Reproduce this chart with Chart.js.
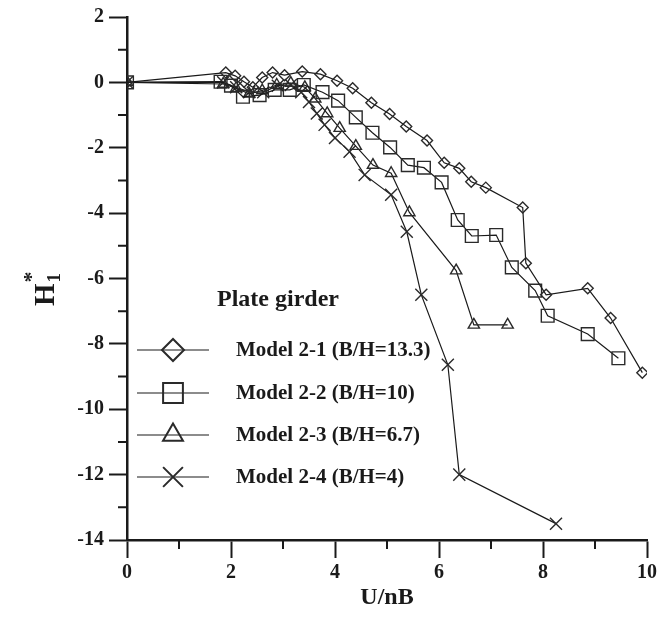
<!DOCTYPE html>
<html>
<head>
<meta charset="utf-8">
<script src="https://cdn.jsdelivr.net/npm/chart.js@4.4.0/dist/chart.umd.min.js"></script>
<style>
  html, body { margin: 0; padding: 0; background: #fff; }
</style>
</head>
<body>
<canvas id="girderChart" width="660" height="620"></canvas>
<script>
// H1* flutter derivative vs reduced wind speed, plate girder models
const seriesLabels = ["Model 2-1 (B/H=13.3)", "Model 2-2 (B/H=10)", "Model 2-3 (B/H=6.7)", "Model 2-4 (B/H=4)"];

const model21X = [0, 1.9, 2.08, 2.25, 2.42, 2.6, 2.8, 3.03, 3.37, 3.72, 4.04, 4.34, 4.7, 5.05, 5.37, 5.77, 6.1, 6.39, 6.62, 6.9, 7.61, 7.67, 8.06, 8.86, 9.3, 9.91];
const model21Y = [0, 0.3, 0.2, 0.02, -0.15, 0.15, 0.3, 0.22, 0.33, 0.25, 0.05, -0.18, -0.62, -0.97, -1.35, -1.78, -2.46, -2.63, -3.04, -3.22, -3.83, -5.53, -6.5, -6.3, -7.21, -8.88];

const model22X = [0, 1.8, 2.0, 2.23, 2.55, 2.84, 3.13, 3.4, 3.76, 4.06, 4.4, 4.72, 5.06, 5.4, 5.71, 6.05, 6.36, 6.63, 7.1, 7.4, 7.85, 8.09, 8.86, 9.45];
const model22Y = [0, 0.02, -0.1, -0.44, -0.39, -0.23, -0.23, -0.08, -0.3, -0.56, -1.07, -1.54, -1.99, -2.53, -2.61, -3.06, -4.21, -4.7, -4.67, -5.66, -6.37, -7.14, -7.7, -8.44];

const model23X = [0, 1.85, 2.1, 2.35, 2.6, 2.88, 3.15, 3.42, 3.62, 3.85, 4.09, 4.4, 4.73, 5.08, 5.43, 6.33, 6.67, 7.32];
const model23Y = [0, -0.05, -0.18, -0.35, -0.25, -0.08, -0.02, -0.15, -0.5, -0.95, -1.4, -1.95, -2.53, -2.78, -3.98, -5.76, -7.42, -7.42];

const model24X = [0, 1.85, 2.1, 2.35, 2.62, 2.9, 3.15, 3.35, 3.5, 3.65, 3.8, 4.0, 4.28, 4.57, 5.08, 5.38, 5.66, 6.17, 6.39, 8.25];
const model24Y = [0, 0.0, -0.15, -0.3, -0.3, -0.1, -0.08, -0.3, -0.6, -0.95, -1.3, -1.7, -2.12, -2.83, -3.44, -4.57, -6.5, -8.64, -12.0, -13.5];

const xTicks = [0, 2, 4, 6, 8, 10];
const yTicks = [2, 0, -2, -4, -6, -8, -10, -12, -14];

const SERIF = '"Liberation Serif", "DejaVu Serif", serif';
const INK = '#1a1a1a';

function toPoints(xs, ys) {
    return xs.map((x, i) => ({ x: x, y: ys[i] }));
}

// marker look per series: [pointStyle, radius in plot, radius in legend]
const markerStyles = [
    ['rectRot', 5.5, 11],
    ['rect', 9, 14],
    ['triangle', 6.5, 11.5],
    ['crossRot', 8.5, 14]
];

const seriesData = [
    toPoints(model21X, model21Y),
    toPoints(model22X, model22Y),
    toPoints(model23X, model23Y),
    toPoints(model24X, model24Y)
];

const datasets = seriesData.map((pts, i) => ({
    label: seriesLabels[i],
    data: pts,
    showLine: true,
    borderColor: INK,
    borderWidth: 1.2,
    pointStyle: markerStyles[i][0],
    pointRadius: markerStyles[i][1],
    pointBorderColor: '#2a2a2a',
    pointBorderWidth: 1.4,
    pointBackgroundColor: 'rgba(0,0,0,0)'
}));

// minor ticks, the H1* axis title and the in-plot legend
const girderDecor = {
    id: 'girderDecor',
    afterDraw(chart) {
        const { ctx, chartArea, scales } = chart;
        const x = scales.x, y = scales.y;
        ctx.save();
        ctx.strokeStyle = INK;
        ctx.lineWidth = 2;
        ctx.beginPath();
        for (let v = 1; v < 10; v += 2) {
            const px = x.getPixelForValue(v);
            ctx.moveTo(px, chartArea.bottom);
            ctx.lineTo(px, chartArea.bottom + 9);
        }
        for (let v = -13; v < 2; v += 2) {
            const py = y.getPixelForValue(v);
            ctx.moveTo(chartArea.left - 9, py);
            ctx.lineTo(chartArea.left, py);
        }
        ctx.stroke();

        // y title: H with subscript 1 and superscript *
        ctx.save();
        ctx.translate(44, 290);
        ctx.rotate(-Math.PI / 2);
        ctx.fillStyle = INK;
        ctx.textBaseline = 'alphabetic';
        ctx.font = 'bold 29px ' + SERIF;
        const wH = ctx.measureText('H').width;
        ctx.font = 'bold 19px ' + SERIF;
        const w1 = ctx.measureText('1').width;
        const x0 = -(wH + w1) / 2;
        ctx.font = 'bold 29px ' + SERIF;
        ctx.fillText('H', x0, 10);
        ctx.font = 'bold 19px ' + SERIF;
        ctx.fillText('1', x0 + wH + 1, 16);
        ctx.font = 'bold 22px ' + SERIF;
        ctx.fillText('*', x0 + wH + 1, -6);
        ctx.restore();

        // legend
        ctx.textBaseline = 'middle';
        ctx.textAlign = 'left';
        ctx.fillStyle = INK;
        ctx.font = 'bold 24px ' + SERIF;
        ctx.fillText('Plate girder', 217, 300);
        const rows = [350, 393, 435, 477];
        chart.data.datasets.forEach((ds, i) => {
            const ry = rows[i];
            ctx.strokeStyle = INK;
            ctx.lineWidth = 1.2;
            ctx.beginPath();
            ctx.moveTo(137, ry);
            ctx.lineTo(209, ry);
            ctx.stroke();
            // hollow legend marker
            ctx.fillStyle = 'rgba(0,0,0,0)';
            ctx.strokeStyle = '#2a2a2a';
            ctx.lineWidth = 2;
            Chart.helpers.drawPoint(ctx, {
                pointStyle: markerStyles[i][0],
                radius: markerStyles[i][2],
                rotation: 0,
                borderWidth: 2
            }, 173, ry);
            ctx.fillStyle = INK;
            ctx.font = 'bold 21px ' + SERIF;
            ctx.fillText(ds.label, 236, ry + 1);
        });
        ctx.restore();
    }
};

const ctx = document.getElementById('girderChart').getContext('2d');
new Chart(ctx, {
    type: 'scatter',
    data: { datasets: datasets },
    options: {
        responsive: false,
        animation: false,
        layout: { padding: { top: 17, right: 12, left: 0, bottom: 0 } },
        plugins: {
            legend: { display: false },
            tooltip: { enabled: false }
        },
        scales: {
            x: {
                type: 'linear',
                min: 0,
                max: 10,
                afterBuildTicks: scale => { scale.ticks = xTicks.map(v => ({ value: v })); },
                afterFit: scale => { scale.height = 80; },
                ticks: {
                    color: INK,
                    padding: 3,
                    maxRotation: 0,
                    font: { family: SERIF, size: 20, weight: 'bold' }
                },
                grid: { drawOnChartArea: false, tickLength: 18, tickWidth: 2, tickColor: INK },
                border: { color: INK, width: 2.5 },
                title: {
                    display: true,
                    text: 'U/nB',
                    color: INK,
                    padding: { top: 0, bottom: 8 },
                    font: { family: SERIF, size: 24, weight: 'bold' }
                }
            },
            y: {
                type: 'linear',
                min: -14,
                max: 2,
                afterBuildTicks: scale => { scale.ticks = yTicks.map(v => ({ value: v })); },
                afterFit: scale => { scale.width = 127; },
                ticks: {
                    color: INK,
                    padding: 5,
                    font: { family: SERIF, size: 20, weight: 'bold' }
                },
                grid: { drawOnChartArea: false, tickLength: 18, tickWidth: 2, tickColor: INK },
                border: { color: INK, width: 2.5 }
            }
        }
    },
    plugins: [girderDecor]
});
</script>
</body>
</html>
